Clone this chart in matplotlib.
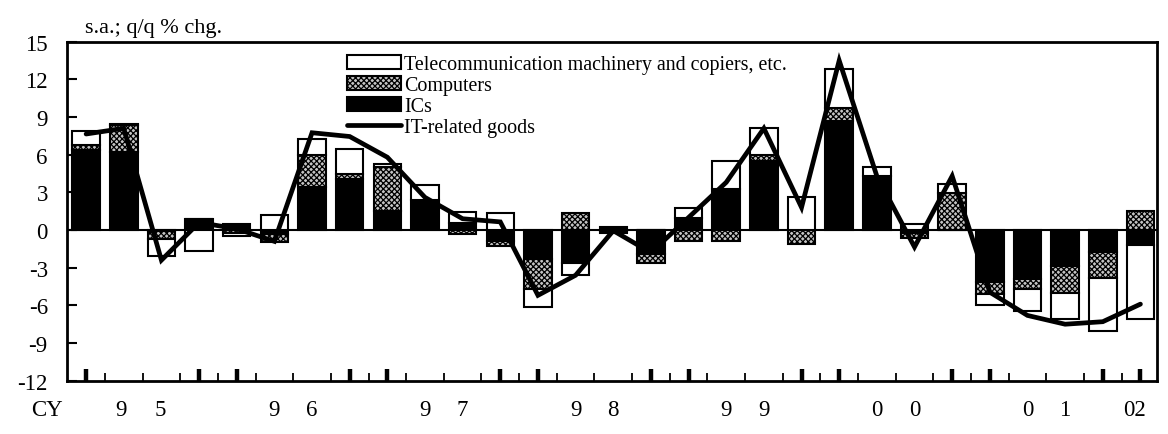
import numpy as np
import matplotlib.pyplot as plt
from matplotlib.patches import Patch
from matplotlib.lines import Line2D
from matplotlib.transforms import blended_transform_factory

plt.rcParams['font.family'] = ['Liberation Serif', 'DejaVu Serif']
plt.rcParams['hatch.linewidth'] = 0.9
plt.rcParams['axes.unicode_minus'] = False

# quarterly data, CY1995 Q1 .. CY2002 Q1
ics = [6.4, 6.25, -0.1, 0.85, 0.45, -0.35, 3.45, 4.05, 1.55, 2.4,
       0.53, -0.85, -2.3, -2.65, 0.25, -1.9, 0.93, 3.3, 5.5, 0.0,
       8.7, 4.33, -0.25, 0.0, -4.17, -3.9, -2.84, -1.72, -1.2]
computers = [0.4, 2.1, -0.6, 0.0, -0.2, -0.6, 2.5, 0.4, 3.5, 0.0,
             -0.3, -0.4, -2.4, 1.35, -0.1, -0.75, -0.85, -0.85, 0.47, -1.1,
             1.0, 0.0, -0.35, 2.95, -0.93, -0.8, -2.2, -2.13, 1.55]
telecom = [1.05, 0.1, -1.35, -1.7, -0.3, 1.2, 1.3, 2.0, 0.2, 1.17,
           0.93, 1.35, -1.46, -0.9, -0.1, 0.0, 0.8, 2.2, 2.13, 2.6,
           3.1, 0.67, 0.48, 0.7, -0.87, -1.72, -2.05, -4.17, -5.9]
it_goods = [7.65, 8.1, -2.4, 0.6, 0.1, -0.9, 7.75, 7.45, 5.8, 2.6,
            0.9, 0.65, -5.2, -3.6, -0.05, -1.8, 1.0, 3.8, 8.1, 1.8,
            13.5, 4.3, -1.35, 4.3, -4.95, -6.8, -7.5, -7.3, -5.9]
years = ["95", "96", "97", "98", "99", "00", "01"]

x = np.arange(len(ics))

fig = plt.figure(figsize=(11.68, 4.35), dpi=100)
ax = fig.add_axes([0.0576, 0.1225, 0.9333, 0.7793])

styles = [
    dict(facecolor='black'),
    dict(facecolor='#c4c4c4', hatch='xxxxxx'),
    dict(facecolor='white'),
]
pos = np.zeros(len(x))
neg = np.zeros(len(x))
for vals, st in zip([ics, computers, telecom], styles):
    v = np.array(vals)
    bottom = np.where(v >= 0, pos, neg)
    ax.bar(x, v, bottom=bottom, width=0.73, edgecolor='black',
           linewidth=1.5, zorder=2, **st)
    pos += np.clip(v, 0, None)
    neg += np.clip(v, None, 0)

ax.axhline(0, color='black', lw=1.5, zorder=1.5)
ax.plot(x, it_goods, color='black', lw=3.4, solid_capstyle='round',
        solid_joinstyle='miter', zorder=4)

ax.set_xlim(-0.5, 28.45)
ax.set_ylim(-12, 15)
ax.set_yticks(range(-12, 16, 3))
ax.tick_params(axis='y', direction='in', length=7, width=1.5,
               labelsize=16.5, pad=14)
ax.set_xticks([i for i in x if i % 4 in (0, 3)])
ax.set_xticks(np.arange(0.5, 28, 1), minor=True)
ax.tick_params(axis='x', which='major', direction='in', length=9, width=3.2,
               labelbottom=False)
ax.tick_params(axis='x', which='minor', direction='in', length=6, width=1.3)
for s in ax.spines.values():
    s.set_linewidth(2)

trans = blended_transform_factory(ax.transData, fig.transFigure)
ty = 1 - 411 / 435
ax.text(-1.05, ty, "CY", transform=trans, ha='center', va='center', fontsize=16.5)
for k, yr in enumerate(years):
    off = -0.08 if k == 0 else 0.0
    ax.text(4 * k + 1 + off, ty, yr[0], transform=trans, ha='center',
            va='center', fontsize=16.5)
    ax.text(4 * k + 2 + off / 2, ty, yr[1], transform=trans, ha='center',
            va='center', fontsize=16.5)
ax.text(27.85, ty, "02", transform=trans, ha='center', va='center', fontsize=16.5)

fig.text(85 / 1168, 1 - 33 / 435, "s.a.; q/q % chg.", fontsize=16,
         ha='left', va='baseline')

handles = [
    Patch(facecolor='white', edgecolor='black', linewidth=1.5),
    Patch(facecolor='#c4c4c4', edgecolor='black', hatch='xxxxxx', linewidth=1.5),
    Patch(facecolor='black', edgecolor='black', linewidth=1.5),
    Line2D([], [], color='black', lw=3.4, solid_capstyle='round'),
]
labels = ["Telecommunication machinery and copiers, etc.", "Computers",
          "ICs", "IT-related goods"]
ax.legend(handles, labels, loc='upper left', bbox_to_anchor=(0.2566, 0.962),
          frameon=False, fontsize=14.4, borderpad=0, handlelength=2.7,
          handleheight=0.7, handletextpad=0.15, labelspacing=0.1,
          borderaxespad=0)

fig.savefig("out.png", dpi=100)
